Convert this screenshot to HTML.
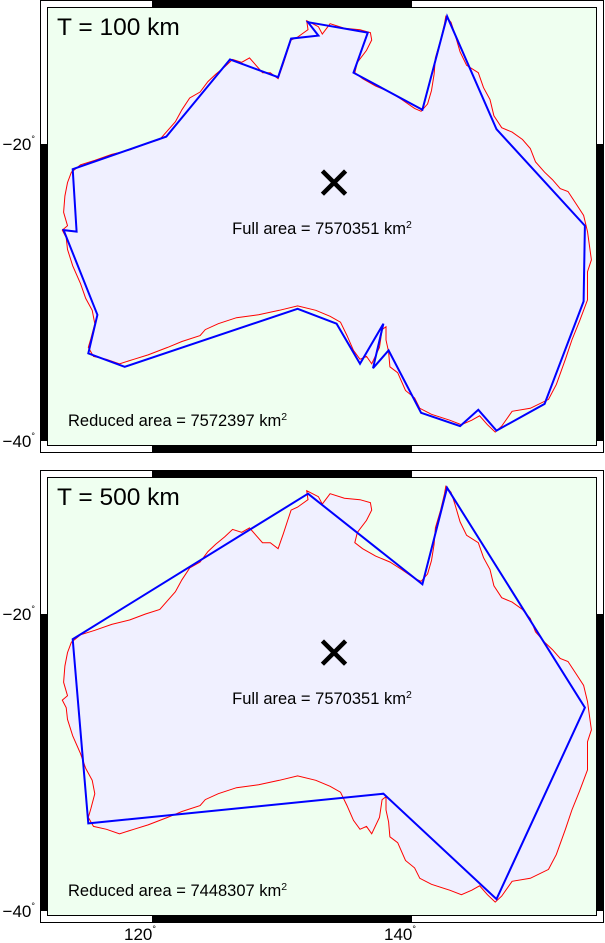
<!DOCTYPE html>
<html><head><meta charset="utf-8"><style>
html,body{margin:0;padding:0;background:#fff;}
svg{display:block;font-family:"Liberation Sans",sans-serif;}
</style></head><body>
<svg id="chart" width="605" height="943" viewBox="0 0 605 943" xmlns="http://www.w3.org/2000/svg"></svg>
<script>
// ---- data (lon/lat degrees) ----
const coastLon=[131.9,132.8,133.1,133.7,134.8,136.0,136.8,136.9,136.5,135.8,135.6,136.2,137.2,138.3,139.2,140.2,140.7,141.2,141.5,141.7,141.8,142.2,142.5,142.6,143.0,143.3,143.7,144.2,145.1,145.5,146.0,146.3,146.9,147.7,148.5,149.1,149.5,150.2,150.8,151.4,152.0,152.6,153.2,153.5,153.8,153.5,153.5,152.9,152.3,151.8,151.1,150.5,149.1,147.7,146.9,146.4,145.8,145.2,144.6,143.8,142.9,141.5,140.6,140.2,139.5,138.9,138.3,138.2,138.0,138.0,137.7,137.5,136.9,136.5,136.0,135.5,135.0,134.5,133.7,132.6,131.2,129.8,128.2,126.5,125.1,124.1,123.7,122.3,121.2,119.7,118.6,117.5,116.5,115.5,115.1,115.3,115.6,115.4,114.9,114.5,113.9,113.5,113.4,113.1,113.5,113.2,113.3,113.5,113.8,114.5,115.6,116.9,118.3,119.5,120.6,121.2,121.8,122.3,122.9,123.7,124.3,124.9,125.6,126.2,126.9,127.5,128.0,128.5,129.1,129.7,130.1,130.4,130.7,131.2,132.0];
const coastLat=[-11.7,-12.1,-12.6,-11.9,-12.2,-12.3,-12.5,-13.0,-13.7,-14.5,-15.2,-15.6,-16.1,-16.5,-17.0,-17.6,-17.8,-17.3,-16.4,-15.3,-14.2,-13.0,-11.9,-11.4,-11.8,-12.6,-13.8,-14.7,-15.2,-16.2,-17.0,-18.1,-18.9,-19.2,-19.7,-20.3,-21.2,-21.9,-22.4,-23.0,-23.2,-24.0,-24.8,-25.9,-27.8,-28.6,-30.5,-31.9,-33.2,-34.5,-36.2,-37.2,-37.8,-38.0,-39.0,-39.4,-38.9,-38.3,-38.6,-38.9,-38.6,-38.2,-37.8,-37.1,-36.6,-35.4,-35.0,-34.0,-33.2,-32.3,-32.5,-33.7,-34.8,-34.3,-34.5,-33.9,-32.9,-32.0,-31.6,-31.2,-30.9,-31.2,-31.5,-31.7,-32.1,-32.5,-32.9,-33.3,-33.7,-34.2,-34.5,-34.8,-34.5,-34.3,-33.7,-33.1,-32.1,-31.2,-30.4,-29.4,-28.2,-27.1,-26.3,-25.8,-25.5,-24.6,-23.5,-22.6,-21.9,-21.4,-21.1,-20.7,-20.4,-20.0,-19.7,-19.1,-18.5,-17.7,-16.9,-16.5,-15.8,-15.3,-14.8,-14.3,-14.5,-14.2,-14.7,-15.2,-15.2,-15.6,-14.6,-13.8,-13.0,-12.8,-12.3];
const reduced100Lon=[132.0,136.6,135.5,140.8,142.7,146.5,153.3,153.2,150.2,146.5,145.1,143.7,140.7,138.2,137.0,137.8,136.0,134.2,131.2,117.9,115.1,115.8,113.2,114.2,113.9,121.1,126.0,129.7,130.7,132.8];
const reduced100Lat=[-11.8,-12.5,-15.2,-17.7,-11.4,-19.0,-25.5,-30.6,-37.5,-39.3,-37.9,-39.0,-38.1,-33.9,-35.1,-32.1,-34.8,-32.1,-31.1,-35.0,-34.1,-31.5,-25.8,-25.9,-21.7,-19.5,-14.3,-15.5,-12.9,-12.7];
const reduced500Lon=[132.0,140.8,142.7,153.3,146.5,137.8,115.1,113.9];
const reduced500Lat=[-11.9,-18.0,-11.5,-26.3,-39.2,-32.1,-34.1,-21.7];
const centroid=[134.0,-22.6];
const panelTitles=["T = 100 km","T = 500 km"];
const fullAreas=["7570351","7570351"];
const reducedAreas=["7572397","7448307"];
const lonTicks=[120,140];
const latTicks=[-20,-40];

// ---- axes ----
const X0=152, KX=13;
function px(lon){return X0+(lon-120)*KX;}
function py(lat,off){return off+144+(-20-lat)*14.85;}

const NS="http://www.w3.org/2000/svg";
const svg=document.getElementById('chart');
function mk(tag,attrs,parent){const e=document.createElementNS(NS,tag);for(const k in attrs)e.setAttribute(k,attrs[k]);(parent||svg).appendChild(e);return e;}

const defs=mk('defs',{});
const panels=[{off:0,rLon:reduced100Lon,rLat:reduced100Lat},{off:470,rLon:reduced500Lon,rLat:reduced500Lat}];
panels.forEach((p,i)=>{
  const off=p.off;
  const g=mk('g',{});
  
  
  mk('rect',{x:40,y:off,width:564,height:453,fill:'#fff'},g);
  const cp=mk('clipPath',{id:'clip'+i},defs);
  mk('rect',{x:47,y:off+7,width:550,height:439},cp);
  const bg=mk('rect',{x:47,y:off+7,width:550,height:439,fill:'#effff0'},g);
  
  
  const inner=mk('g',{'clip-path':'url(#clip'+i+')'},g);
  const cpts=coastLon.map((lo,j)=>px(lo).toFixed(1)+','+py(coastLat[j],off).toFixed(1)).join(' ');
  const fill=mk('polygon',{points:cpts,fill:'#f0f0ff',stroke:'none'},inner);
  
  
  const coast=mk('polygon',{points:cpts,fill:'none',stroke:'#ff0000','stroke-width':1},inner);
  
  
  const rpts=p.rLon.map((lo,j)=>px(lo).toFixed(1)+','+py(p.rLat[j],off).toFixed(1)).join(' ');
  const red=mk('polygon',{points:rpts,fill:'none',stroke:'#0000ff','stroke-width':2,'stroke-linejoin':'miter'},inner);
  
  
  const cx=px(centroid[0]), cy=py(centroid[1],off);
  const xm=mk('path',{d:`M${cx-10},${cy-10}L${cx+10},${cy+10}M${cx+10},${cy-10}L${cx-10},${cy+10}`,stroke:'#000','stroke-width':4.5,'stroke-linecap':'square',fill:'none'},g);
  
  
  const t=mk('text',{x:57,y:off+35,'font-size':24.5,fill:'#000'},g);
  t.textContent=panelTitles[i];
  
  
  const fa=mk('text',{x:322,y:off+234,'font-size':16.5,'text-anchor':'middle',fill:'#000'},g);
  fa.innerHTML='Full area = '+fullAreas[i]+' km<tspan font-size="10.5" dy="-6">2</tspan>';
  
  
  const ra=mk('text',{x:68,y:off+426,'font-size':16.5,fill:'#000'},g);
  ra.innerHTML='Reduced area = '+reducedAreas[i]+' km<tspan font-size="10.5" dy="-6">2</tspan>';
  
  
  const fr=mk('g',{},g);
  
  
  const xa=px(lonTicks[0]), xb=px(lonTicks[1]);
  mk('rect',{x:xa,y:off,width:xb-xa,height:7,fill:'#000'},fr);
  mk('rect',{x:xa,y:off+446,width:xb-xa,height:7,fill:'#000'},fr);
  const ya=py(latTicks[0],off), yb=py(latTicks[1],off);
  mk('rect',{x:40,y:ya,width:7,height:yb-ya,fill:'#000'},fr);
  mk('rect',{x:597,y:ya,width:7,height:yb-ya,fill:'#000'},fr);
  mk('rect',{x:40.5,y:off+0.5,width:563,height:452,fill:'none',stroke:'#000','stroke-width':1},fr);
  mk('rect',{x:47.5,y:off+7.5,width:549,height:438,fill:'none',stroke:'#000','stroke-width':1},fr);
  latTicks.forEach(lt=>{
    const l=mk('text',{x:35,y:py(lt,off)+6,'font-size':17,'text-anchor':'end',fill:'#000'},g);
    l.innerHTML='\u2212'+Math.abs(lt)+'<tspan font-size="9" dy="-8">°</tspan>';
    
    
  });
});
lonTicks.forEach(lo=>{
  const l=mk('text',{x:px(lo)-12,y:940,'font-size':17,'text-anchor':'middle',fill:'#000'});
  l.innerHTML=lo+'<tspan font-size="9" dy="-8">°</tspan>';
  
  
});
</script>
</body></html>
